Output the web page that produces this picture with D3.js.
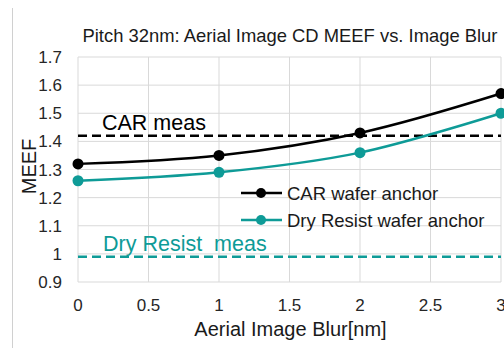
<!DOCTYPE html>
<html>
<head>
<meta charset="utf-8">
<script src="https://cdn.jsdelivr.net/npm/d3@7"></script>
<style>
  body { margin: 0; background: #fff; }
  svg { font-family: "Liberation Sans", Arial, sans-serif; display: block; }
  .grid line { stroke: #d9d9d9; stroke-width: 1; }
  .tick-label { font-size: 17px; fill: #262626; }
</style>
</head>
<body>
<div id="chart-area"><svg></svg></div>
<script>
const blur = [0, 1, 2, 3];
const carAnchor = [1.32, 1.35, 1.43, 1.57];
const dryAnchor = [1.26, 1.29, 1.36, 1.50];
const carMeas = 1.42;
const dryMeas = 0.99;
const xTicks = [0, 0.5, 1, 1.5, 2, 2.5, 3];
const yTicks = [0.9, 1.0, 1.1, 1.2, 1.3, 1.4, 1.5, 1.6, 1.7];
const seriesNames = ["CAR wafer anchor", "Dry Resist wafer anchor"];

const chartSize = { width: 504, height: 348 };
const margin = { left: 78, top: 57, right: 3, bottom: 66 };
const width = chartSize.width - margin.left - margin.right;
const height = chartSize.height - margin.top - margin.bottom;
const teal = "#0e9b97";

const svg = d3
  .select("#chart-area svg")
  .attr("width", chartSize.width)
  .attr("height", chartSize.height);

// outer chart border (only left edge visible in crop)
svg.append("line")
  .attr("x1", 12.5).attr("x2", 12.5)
  .attr("y1", 8).attr("y2", chartSize.height)
  .attr("stroke", "#d0d0d0");

svg.append("text")
  .attr("x", 290)
  .attr("y", 42)
  .attr("text-anchor", "middle")
  .attr("font-size", 18.4)
  .attr("fill", "#1a1a1a")
  .text("Pitch 32nm: Aerial Image CD MEEF vs. Image Blur");

const g = svg.append("g").attr("transform", `translate(${margin.left},${margin.top})`);

const x = d3.scaleLinear().domain([0, 3]).range([0, width]);
const y = d3.scaleLinear().domain([0.9, 1.7]).range([height, 0]);

const grid = g.append("g").attr("class", "grid");
grid.selectAll(".hg").data(yTicks).join("line")
  .attr("x1", 0).attr("x2", width)
  .attr("y1", d => y(d)).attr("y2", d => y(d));
grid.selectAll(".vg").data(xTicks).join("line")
  .attr("y1", 0).attr("y2", height)
  .attr("x1", d => x(d)).attr("x2", d => x(d));

g.selectAll(".ylab").data(yTicks).join("text")
  .attr("class", "tick-label")
  .attr("x", -16)
  .attr("y", d => y(d))
  .attr("dy", "0.36em")
  .attr("text-anchor", "end")
  .text(d => d3.format("~g")(d));

g.selectAll(".xlab").data(xTicks).join("text")
  .attr("class", "tick-label")
  .attr("x", d => x(d))
  .attr("y", height + 29)
  .attr("text-anchor", "middle")
  .text(d => d3.format("~g")(d));

g.append("text")
  .attr("transform", "rotate(-90)")
  .attr("x", -(y(1.3)) + 3)
  .attr("y", -42)
  .attr("text-anchor", "middle")
  .attr("font-size", 20)
  .attr("fill", "#1a1a1a")
  .text("MEEF");

g.append("text")
  .attr("x", width / 2 + 1)
  .attr("y", height + 54)
  .attr("text-anchor", "middle")
  .attr("font-size", 20)
  .attr("fill", "#1a1a1a")
  .text("Aerial Image Blur[nm]");

// measured reference lines
g.append("line")
  .attr("x1", 0).attr("x2", width)
  .attr("y1", y(carMeas)).attr("y2", y(carMeas))
  .attr("stroke", "#000").attr("stroke-width", 2.5)
  .attr("stroke-dasharray", "9,5");
g.append("text")
  .attr("x", 24).attr("y", y(carMeas) - 6)
  .attr("font-size", 21.5).attr("fill", "#000")
  .text("CAR meas");

g.append("line")
  .attr("x1", 0).attr("x2", width)
  .attr("y1", y(dryMeas)).attr("y2", y(dryMeas))
  .attr("stroke", teal).attr("stroke-width", 2.5)
  .attr("stroke-dasharray", "9,5");
g.append("text")
  .attr("x", 25).attr("y", y(dryMeas) - 6)
  .attr("font-size", 21.5).attr("fill", teal)
  .style("white-space", "pre")
  .text("Dry Resist  meas");

const line = d3.line()
  .x((d, i) => x(blur[i]))
  .y(d => y(d))
  .curve(d3.curveCatmullRom.alpha(0.5));

const series = [
  { name: seriesNames[0], values: carAnchor, color: "#000" },
  { name: seriesNames[1], values: dryAnchor, color: teal }
];

series.forEach(s => {
  g.append("path")
    .attr("d", line(s.values))
    .attr("fill", "none")
    .attr("stroke", s.color)
    .attr("stroke-width", 2.5);
  g.selectAll(null).data(s.values).join("circle")
    .attr("cx", (d, i) => x(blur[i]))
    .attr("cy", d => y(d))
    .attr("r", 5.5)
    .attr("fill", s.color);
});

// legend
const legend = svg.append("g").attr("transform", "translate(241,193)");
series.forEach((s, i) => {
  const row = legend.append("g").attr("transform", `translate(0,${i * 27})`);
  row.append("line").attr("x1", 0).attr("x2", 41)
    .attr("stroke", s.color).attr("stroke-width", 2.5);
  row.append("circle").attr("cx", 20).attr("r", 5).attr("fill", s.color);
  row.append("text").attr("x", 46).attr("dy", "0.36em")
    .attr("font-size", 18.5).attr("fill", "#1a1a1a")
    .text(s.name);
});
</script>
</body>
</html>
